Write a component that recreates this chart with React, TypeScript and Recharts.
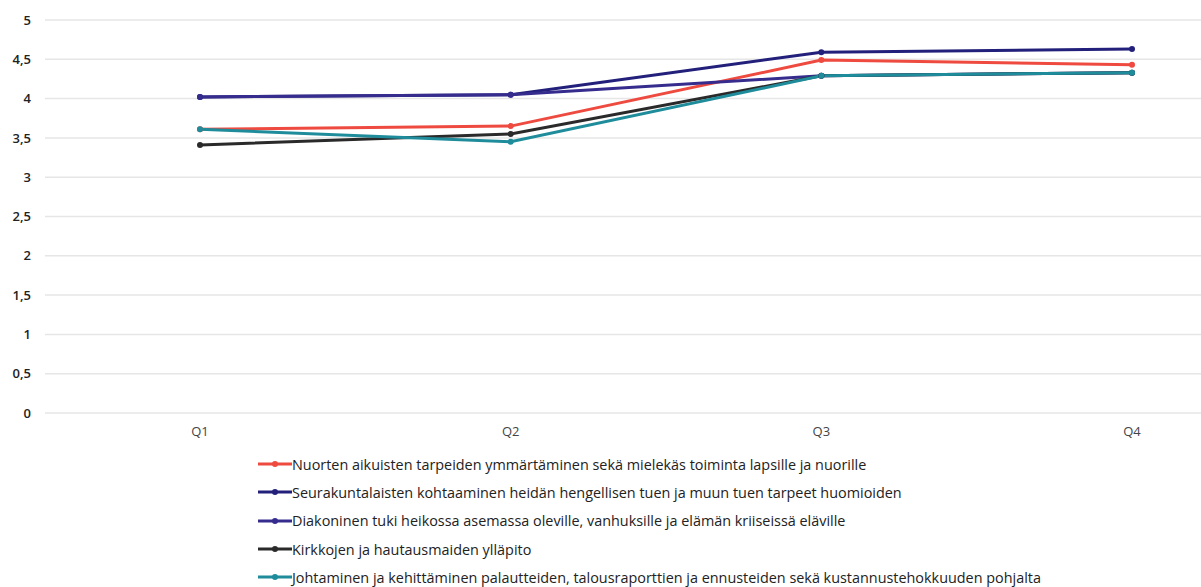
import { LineChart, Line, XAxis, YAxis, CartesianGrid, Legend } from 'recharts';

const quarters = ['Q1', 'Q2', 'Q3', 'Q4'];
const yTicks = [0, 0.5, 1, 1.5, 2, 2.5, 3, 3.5, 4, 4.5, 5];

const nuoret = [3.61, 3.65, 4.49, 4.43];
const seurakunta = [4.02, 4.05, 4.59, 4.63];
const diakonia = [4.02, 4.05, 4.29, 4.33];
const kirkot = [3.41, 3.55, 4.29, 4.33];
const johtaminen = [3.61, 3.45, 4.29, 4.33];

const series = [
  { key: 'nuoret', name: 'Nuorten aikuisten tarpeiden ymmärtäminen sekä mielekäs toiminta lapsille ja nuorille', color: '#ee4a3f', values: nuoret },
  { key: 'seurakunta', name: 'Seurakuntalaisten kohtaaminen heidän hengellisen tuen ja muun tuen tarpeet huomioiden', color: '#22207a', values: seurakunta },
  { key: 'diakonia', name: 'Diakoninen tuki heikossa asemassa oleville, vanhuksille ja elämän kriiseissä eläville', color: '#352c8e', values: diakonia },
  { key: 'kirkot', name: 'Kirkkojen ja hautausmaiden ylläpito', color: '#2a2a2a', values: kirkot },
  { key: 'johtaminen', name: 'Johtaminen ja kehittäminen palautteiden, talousraporttien ja ennusteiden sekä kustannustehokkuuden pohjalta', color: '#1f8c9b', values: johtaminen },
];

const data = quarters.map((q, i) => {
  const row: Record<string, string | number> = { quarter: q };
  series.forEach((s) => {
    row[s.key] = s.values[i];
  });
  return row;
});

const font = '"Open Sans", sans-serif';

function LegendList() {
  return (
    <div style={{ fontFamily: font, fontSize: 14.4, color: '#222' }}>
      {series.map((s) => (
        <div key={s.key} style={{ display: 'flex', alignItems: 'center', height: 28.3, whiteSpace: 'nowrap' }}>
          <svg width={34} height={10} style={{ marginRight: 0 }}>
            <line x1={0} y1={5} x2={34} y2={5} stroke={s.color} strokeWidth={3} />
            <circle cx={17} cy={5} r={3} fill={s.color} />
          </svg>
          <span>{s.name}</span>
        </div>
      ))}
    </div>
  );
}

export default function App() {
  return (
    <div style={{ position: 'absolute', top: 0, left: 0, width: 1201, height: 587, overflow: 'hidden', background: '#fff' }}>
      <LineChart width={1201} height={587} data={data} margin={{ top: 20, right: 0, left: 0, bottom: 150 }}>
        <CartesianGrid horizontal vertical={false} stroke="#e6e6e6" strokeWidth={1.5} />
        <XAxis
          dataKey="quarter"
          axisLine={false}
          tickLine={false}
          padding={{ left: 155, right: 69 }}
          tick={{ fontFamily: font, fontSize: 13, fill: '#444' }}
          tickMargin={8}
          height={24}
        />
        <YAxis
          domain={[0, 5]}
          ticks={yTicks}
          interval={0}
          width={45}
          axisLine={false}
          tickLine={false}
          tickMargin={8}
          tickFormatter={(v: number) => String(v).replace('.', ',')}
          tick={{ fontFamily: font, fontSize: 13, fill: '#222', fontWeight: 600 }}
        />
        {series.map((s) => (
          <Line
            key={s.key}
            dataKey={s.key}
            name={s.name}
            stroke={s.color}
            strokeWidth={3}
            dot={{ r: 3, fill: s.color, stroke: s.color, strokeWidth: 0 }}
            activeDot={false}
            isAnimationActive={false}
          />
        ))}
        <Legend
          layout="vertical"
          align="center"
          verticalAlign="middle"
          content={() => <LegendList />}
          wrapperStyle={{ top: 450, left: 258, width: 940 }}
        />
      </LineChart>
    </div>
  );
}
